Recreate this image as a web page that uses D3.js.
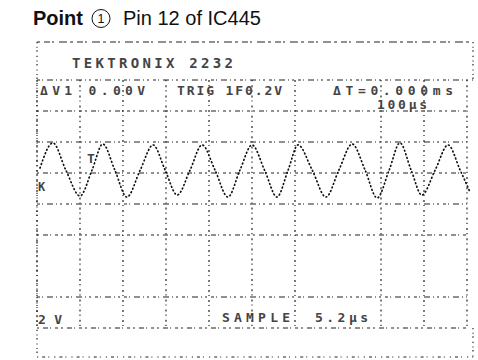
<!DOCTYPE html>
<html>
<head>
<meta charset="utf-8">
<script src="https://cdn.jsdelivr.net/npm/d3@7/dist/d3.min.js"></script>
<style>
  html, body { margin: 0; padding: 0; background: #fff; }
  svg { display: block; }
</style>
</head>
<body>
<script>
// ---- data ----
const timeDiv = [0.07,0.37,0.67,1.00,1.28,1.53,1.81,2.09,2.40,2.70,2.98,3.26,3.56,3.84,4.14,4.44,4.72,5.00,
                 5.30,5.58,5.84,6.07,6.40,6.72,7.02,7.33,7.63,7.91,8.19,8.44,8.70,8.95,9.26,9.56,9.84,10.07];
const volts   = [2.32,3.94,2.19,0.52,2.19,3.87,2.19,0.45,2.19,3.81,2.19,0.58,2.19,3.81,2.19,0.45,2.19,3.81,
                 2.13,0.45,2.19,3.81,2.19,0.45,2.19,3.87,2.19,0.39,2.19,3.94,2.19,0.58,2.19,3.81,2.19,0.77];
const xDivisions = [0,1,2,3,4,5,6,7,8,9,10];
const xMissing = [7];          // graticule line not printed
const yDivisionsV = [-8,-6,-4,-2,0,2,4,6,8];
const yMissing = [-4];         // graticule line not printed
const titleBold = "Point";
const titleMark = "1";
const titleRest = "Pin 12 of IC445";
const headerText = "TEKTRONIX 2232";
const readoutTop = ["ΔV1 0.00V", "TRIG 1F0.2V", "ΔT=0.000ms"];
const readoutSub = "100μs";
const readoutBottom = ["2V", "SAMPLE", "5.2μs"];

// ---- drawing ----
const W = 478, H = 360;
const svg = d3.select("body").append("svg").attr("width", W).attr("height", H);

const x = d3.scaleLinear().domain([0, 10]).range([37, 467]);
const y = d3.scaleLinear().domain([-8, 8]).range([328, 80]);

// Title
const t = svg.append("g").attr("font-family", "Liberation Sans, Arial, sans-serif").attr("fill", "#111");
t.append("text").attr("x", 33).attr("y", 25).attr("font-size", 20).attr("font-weight", "bold").text(titleBold);
t.append("circle").attr("cx", 101).attr("cy", 18.5).attr("r", 9).attr("fill", "none").attr("stroke", "#111").attr("stroke-width", 1);
t.append("text").attr("x", 101).attr("y", 23).attr("text-anchor", "middle").attr("font-size", 12.5).text(titleMark);
t.append("text").attr("x", 123).attr("y", 25).attr("font-size", 20).text(titleRest);

const ink = "#222";
const dashA = "3,2,1,4,6,3,1,3,2,4";
const dashB = "1.2,3.5,1,2.5,1.5,4";
const dashSparse = "1.2,4,3,3,1,5";

const frame = svg.append("g").attr("stroke", ink).attr("fill", "none").attr("stroke-width", 1.2);
// outer frame
frame.append("line").attr("x1", 37).attr("x2", 473).attr("y1", 42).attr("y2", 42).attr("stroke-dasharray", "3,4,6,2,2,5,8,3");
frame.append("line").attr("x1", 37).attr("x2", 37).attr("y1", 42).attr("y2", 357).attr("stroke-dasharray", dashB);
frame.append("line").attr("x1", 473).attr("x2", 473).attr("y1", 42).attr("y2", 80).attr("stroke-dasharray", dashB);
frame.append("line").attr("x1", 473).attr("x2", 473).attr("y1", 328).attr("y2", 357).attr("stroke-dasharray", dashB);
frame.append("line").attr("x1", 37).attr("x2", 473).attr("y1", 357).attr("y2", 357).attr("stroke-dasharray", dashSparse);
frame.append("line").attr("x1", 37).attr("x2", 473).attr("y1", 80).attr("y2", 80).attr("stroke-dasharray", dashA);

// graticule
const grid = svg.append("g").attr("stroke", ink).attr("fill", "none").attr("stroke-width", 1.2);
grid.selectAll("line.v").data(xDivisions.filter(d => !xMissing.includes(d)))
  .join("line").attr("class", "v")
  .attr("x1", d => x(d)).attr("x2", d => x(d))
  .attr("y1", y(8)).attr("y2", y(-8))
  .attr("stroke-dasharray", (d, i) => i % 2 ? "1.2,4,2,3" : "2,3,1,4");
grid.selectAll("line.h").data(yDivisionsV.filter(d => !yMissing.includes(d) && d !== 8))
  .join("line").attr("class", "h")
  .attr("x1", x(0)).attr("x2", x(10))
  .attr("y1", d => y(d)).attr("y2", d => y(d))
  .attr("stroke-dasharray", (d, i) => i % 2 ? dashA : "2,4,5,2,1,4,3,3");

// waveform
const pts = timeDiv.map((t, i) => [t, volts[i]]);
svg.append("path").datum(pts)
  .attr("fill", "none").attr("stroke", "#111").attr("stroke-width", 1.7)
  .attr("stroke-linecap", "round").attr("stroke-dasharray", "0.8,3")
  .attr("d", d3.line().x(d => x(d[0])).y(d => y(d[1])).curve(d3.curveMonotoneX));

// readouts (dot-matrix style)
const ro = svg.append("g").attr("font-family", "DejaVu Sans Mono, monospace").attr("fill", "#444")
  .attr("font-weight", "bold");
function label(str, x0, base, len, size) {
  ro.append("text").attr("x", x0).attr("y", base).attr("textLength", len)
    .attr("lengthAdjust", "spacing").attr("font-size", size || 13).text(str);
}
label(headerText, 72, 68, 161, 14);
label(readoutTop[0], 40, 95, 105);
label(readoutTop[1], 177, 95, 105);
label(readoutTop[2], 333, 95, 120);
label(readoutSub, 377, 109, 50);
label(readoutBottom[0], 38, 324, 24);
label(readoutBottom[1], 222, 322, 68);
label(readoutBottom[2], 315, 322, 53);

// trigger and ground markers
ro.append("text").attr("x", 87).attr("y", 163).attr("font-size", 13).text("T");
ro.append("text").attr("x", 38).attr("y", 191).attr("font-size", 12).text("K");
</script>
</body>
</html>
